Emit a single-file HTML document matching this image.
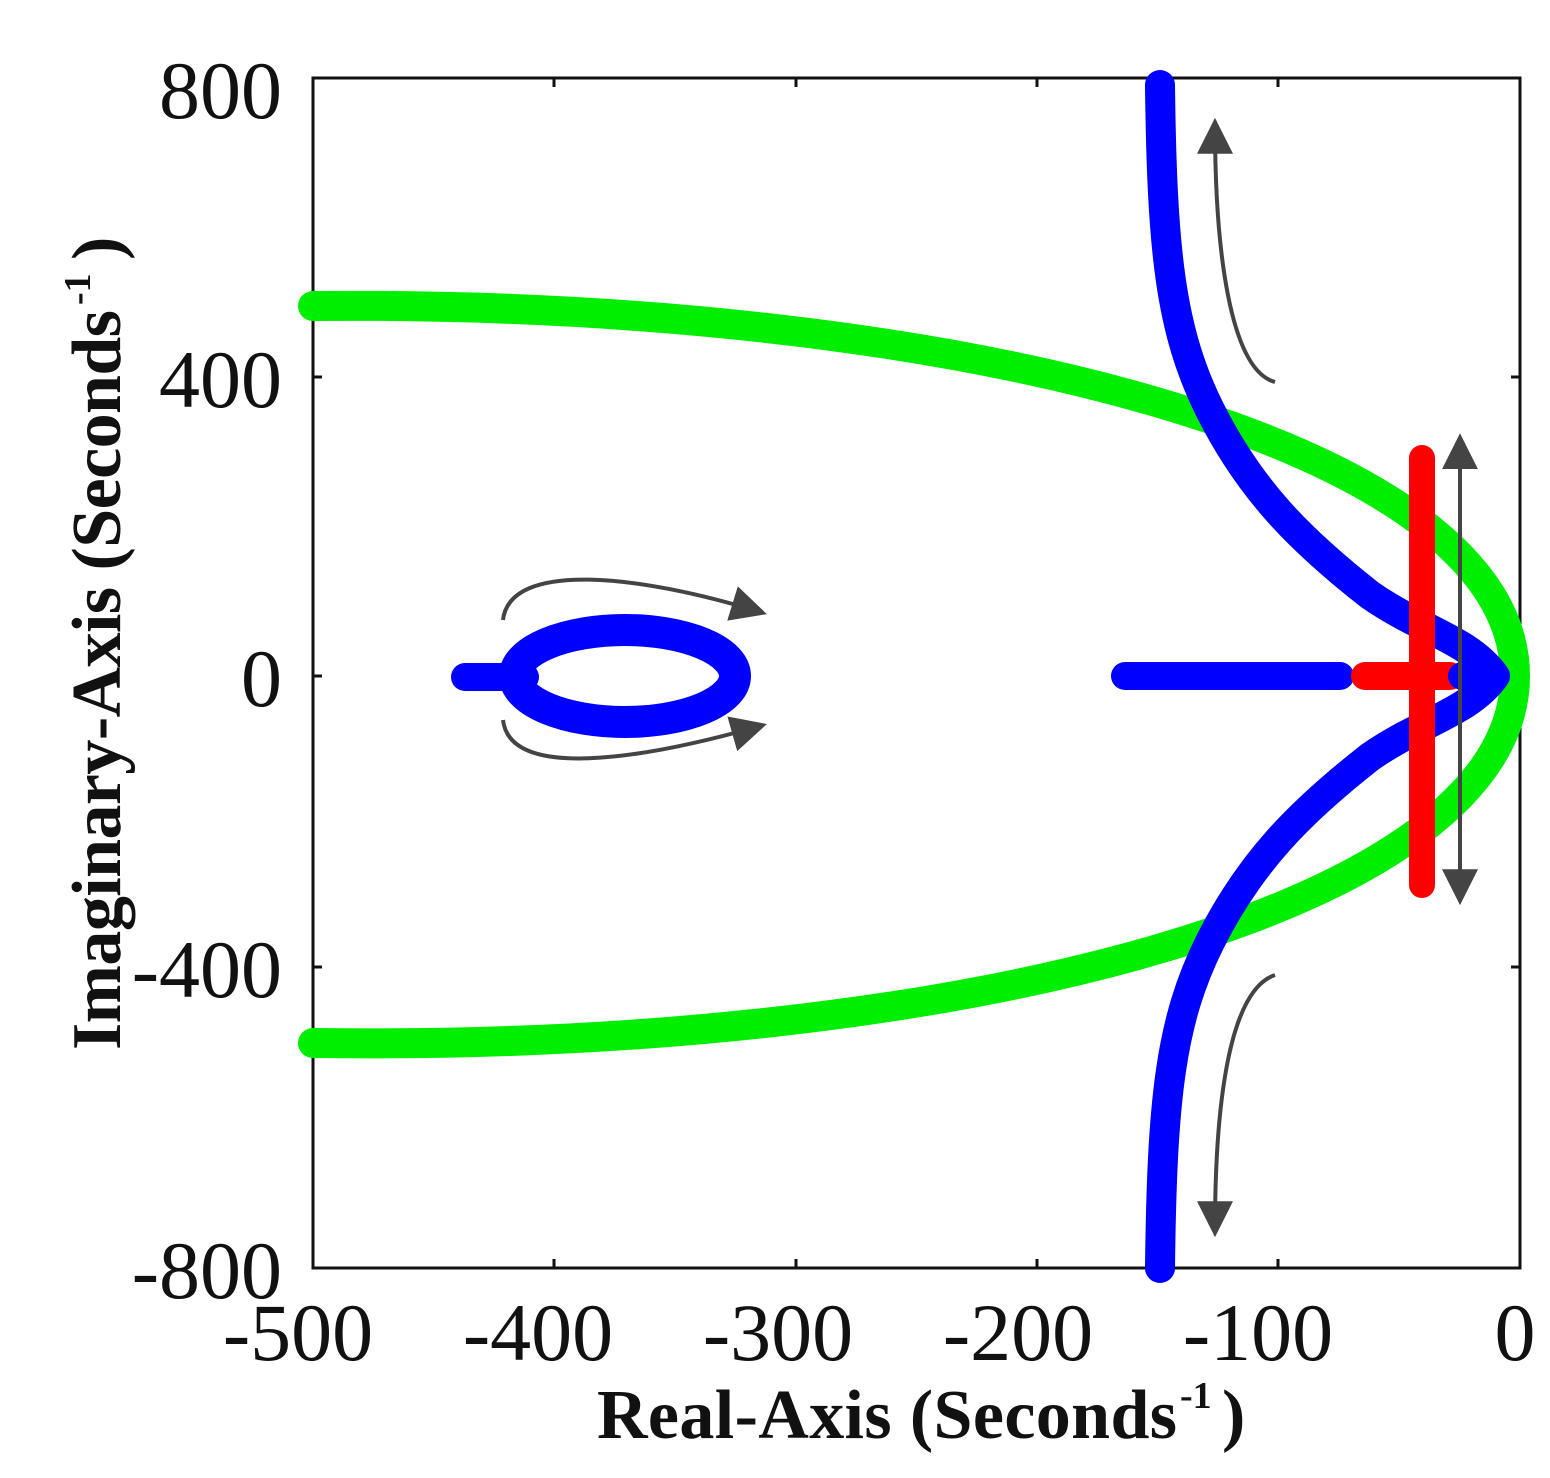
<!DOCTYPE html>
<html><head><style>body{margin:0;background:#fff}</style></head><body>
<svg width="1550" height="1473" viewBox="0 0 1550 1473" xmlns="http://www.w3.org/2000/svg">
<rect width="1550" height="1473" fill="#fff"/>
<defs>
<marker id="ah2" viewBox="0 0 10 10" refX="8" refY="5" markerWidth="9" markerHeight="9" orient="auto" markerUnits="strokeWidth">
<path d="M0,0 L10,5 L0,10 z" fill="#444"/></marker>
<marker id="ah3" viewBox="0 0 10 10" refX="2" refY="5" markerWidth="9" markerHeight="9" orient="auto-start-reverse" markerUnits="strokeWidth">
<path d="M0,0 L10,5 L0,10 z" fill="#444"/></marker>
</defs>
<rect x="313" y="78" width="1207" height="1190" fill="none" stroke="#111" stroke-width="3"/>
<g stroke="#111" stroke-width="3">
<line x1="313" y1="377" x2="322" y2="377"/><line x1="313" y1="676" x2="322" y2="676"/><line x1="313" y1="967" x2="322" y2="967"/>
<line x1="1511" y1="377" x2="1520" y2="377"/><line x1="1511" y1="676" x2="1520" y2="676"/><line x1="1511" y1="967" x2="1520" y2="967"/>
<line x1="554" y1="1268" x2="554" y2="1259"/><line x1="796" y1="1268" x2="796" y2="1259"/><line x1="1037" y1="1268" x2="1037" y2="1259"/><line x1="1278" y1="1268" x2="1278" y2="1259"/>
<line x1="554" y1="78" x2="554" y2="87"/><line x1="796" y1="78" x2="796" y2="87"/><line x1="1037" y1="78" x2="1037" y2="87"/><line x1="1278" y1="78" x2="1278" y2="87"/>
</g>
<path d="M313,306 C960,300 1515,445 1515,676 C1515,907 960,1052 313,1043" fill="none" stroke="#00ee00" stroke-width="30" stroke-linecap="round"/>
<path d="M1160,85 C1162,250 1170,330 1210,410 C1250,490 1300,540 1370,595 C1420,630 1470,640 1495,676 C1470,712 1420,722 1370,757 C1300,812 1250,862 1210,942 C1170,1022 1162,1100 1160,1268" fill="none" stroke="#0000ff" stroke-width="30" stroke-linecap="round" stroke-linejoin="round"/>
<line x1="1125" y1="676" x2="1340" y2="676" stroke="#0000ff" stroke-width="28" stroke-linecap="round"/>
<line x1="1365" y1="676" x2="1450" y2="676" stroke="#ff0000" stroke-width="28" stroke-linecap="round"/>
<line x1="1422" y1="458" x2="1422" y2="885" stroke="#ff0000" stroke-width="26" stroke-linecap="round"/>
<circle cx="1462" cy="676" r="14" fill="#0000ff"/>
<ellipse cx="625" cy="676" rx="110" ry="46" fill="none" stroke="#0000ff" stroke-width="32"/>
<line x1="465" y1="677" x2="525" y2="677" stroke="#0000ff" stroke-width="28" stroke-linecap="round"/>
<g fill="none" stroke="#444" stroke-width="4">
<line x1="1460" y1="462" x2="1460" y2="898" marker-start="url(#ah3)" marker-end="url(#ah2)"/>
<path d="M1275,382 C1230,370 1215,250 1215,125" marker-end="url(#ah2)"/>
<path d="M1275,975 C1230,990 1215,1100 1215,1230" marker-end="url(#ah2)"/>
<path d="M503,620 C510,560 640,575 760,612" marker-end="url(#ah2)"/>
<path d="M503,720 C510,780 640,760 760,726" marker-end="url(#ah2)"/>
</g>
<g font-family="Liberation Serif, serif" font-size="82" fill="#111">
<text x="282" y="118" text-anchor="end">800</text>
<text x="282" y="407" text-anchor="end">400</text>
<text x="282" y="706" text-anchor="end">0</text>
<text x="282" y="997" text-anchor="end">-400</text>
<text x="282" y="1298" text-anchor="end">-800</text>
<text x="298" y="1360" text-anchor="middle">-500</text>
<text x="538" y="1360" text-anchor="middle">-400</text>
<text x="778" y="1360" text-anchor="middle">-300</text>
<text x="1018" y="1360" text-anchor="middle">-200</text>
<text x="1258" y="1360" text-anchor="middle">-100</text>
<text x="1515" y="1360" text-anchor="middle">0</text>
</g>
<g font-family="Liberation Serif, serif" font-size="70" font-weight="bold" fill="#111">
<text x="597" y="1438" textLength="580">Real-Axis (Seconds</text><text x="1180" y="1408" font-size="38">-1</text><text x="1222" y="1438">)</text>
<g transform="translate(120,1050) rotate(-90)"><text x="0" y="0" textLength="740">Imaginary-Axis (Seconds</text><text x="745" y="-30" font-size="38">-1</text><text x="790" y="0">)</text></g>
</g>
</svg>
</body></html>
